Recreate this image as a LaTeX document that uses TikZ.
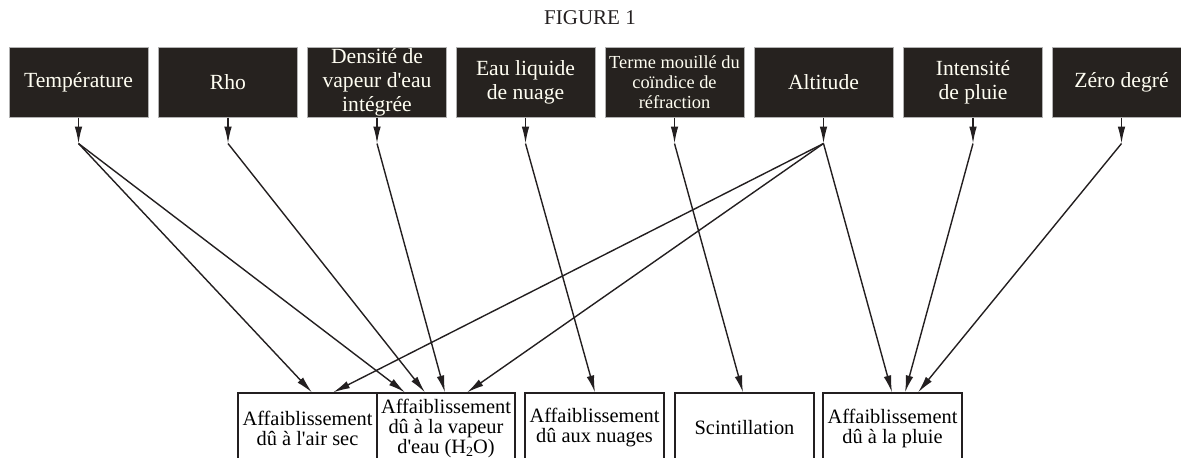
\documentclass[tikz,border=0pt]{standalone}
\usepackage{fontspec}
\setmainfont{Liberation Serif}
\newfontfamily\tnr{Liberation Serif}[Ligatures=TeXOff]
\usetikzlibrary{arrows.meta,calc}
\definecolor{boxfill}{RGB}{38,34,31}
\definecolor{ink}{RGB}{35,31,32}
\newcommand\mysubscr[1]{\raisebox{-0.4ex}{\fontsize{7}{7}\selectfont #1}}
\begin{document}
\begin{tikzpicture}[x=0.5pt,y=-0.5pt,
  topbox/.style={draw=gray!60, line width=0.5pt, fill=boxfill, text=white!95!yellow, minimum width=69.5pt, minimum height=35pt, inner sep=0pt, align=center, font=\tnr\fontsize{10.8}{12}\selectfont},
  botbox/.style={draw=ink, line width=0.55pt, minimum width=69.5pt, minimum height=35pt, inner sep=0pt, align=center, font=\tnr\fontsize{10.2}{10}\selectfont},
  feed/.style={draw=ink, line width=0.7pt, -{Latex[length=8.5pt,width=3.8pt]}},
  ]
\clip (0,0) rectangle (1181,457);
\node[font=\tnr\fontsize{10.5}{12}\selectfont, text=ink] (title) at (590,18) {FIGURE 1};
\node[topbox] (temp) at (78.5,82) {Température};
\node[topbox] (rho) at (228,82) {Rho};
\node[topbox] (dens) at (377,82) {Densité de\\vapeur d'eau\\intégrée};
\node[topbox] (eau) at (525.5,82) {Eau liquide\\de nuage};
\node[topbox, font=\tnr\fontsize{9.2}{10}\selectfont] (terme) at (674.5,82) {Terme mouillé du\\coïndice de\\réfraction};
\node[topbox] (alt) at (823.5,82) {Altitude};
\node[topbox] (int) at (973,82) {Intensité\\de pluie};
\node[topbox] (zero) at (1121.5,82) {Zéro degré};
\node[botbox] (airsec) at (307.5,428) {Affaiblissement\\dû à l'air sec};
\node[botbox, minimum width=69pt] (h2o) at (446,428) {Affaiblissement\\dû à la vapeur\\d'eau (H\mysubscr{2}O)};
\node[botbox] (nuages) at (594.5,428) {Affaiblissement\\dû aux nuages};
\node[botbox] (scint) at (744.5,428) {Scintillation};
\node[botbox] (pluie) at (892.5,428) {Affaiblissement\\dû à la pluie};
\foreach \n in {temp,rho,dens,eau,terme,alt,int,zero}{
  \coordinate (h\n) at ($(\n.south)+(0,26)$);
  \draw[feed] (\n.south) -- (h\n);
}
\draw[feed] (htemp) -- ($(airsec.north)+(4.5,0)$);
\draw[feed] (htemp) -- ($(h2o.north)+(-41,0)$);
\draw[feed] (hrho) -- ($(h2o.north)+(-21,0)$);
\draw[feed] (hdens) -- ($(h2o.north)+(-1,0)$);
\draw[feed] (heau) -- ($(nuages.north)+(0.5,0)$);
\draw[feed] (hterme) -- ($(scint.north)+(-1.5,0)$);
\draw[feed] (halt) -- ($(airsec.north)+(25.5,0)$);
\draw[feed] (halt) -- ($(h2o.north)+(21,0)$);
\draw[feed] (halt) -- ($(pluie.north)+(-0.5,0)$);
\draw[feed] (hint) -- ($(pluie.north)+(12.5,0)$);
\draw[feed] (hzero) -- ($(pluie.north)+(25.5,0)$);
\end{tikzpicture}
\end{document}
